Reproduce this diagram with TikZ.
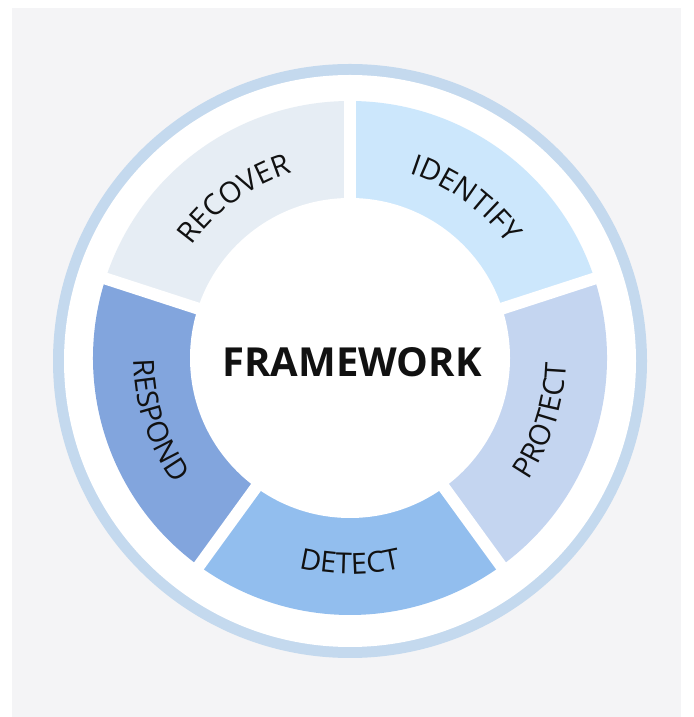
\documentclass[tikz,border=0pt]{standalone}
\usepackage{fontspec}
\setmainfont{Open Sans}
\usetikzlibrary{decorations.text}
\definecolor{bgc}{HTML}{F4F4F6}
\definecolor{ringc}{HTML}{C4D9EE}
\definecolor{identc}{HTML}{CCE7FC}
\definecolor{recovc}{HTML}{E6EDF4}
\definecolor{respc}{HTML}{82A5DD}
\definecolor{detc}{HTML}{92BEEE}
\definecolor{protc}{HTML}{C4D5F0}
\definecolor{txtc}{HTML}{111111}
\tikzset{
  gapline/.style={white, line width=12pt},
  arclabel/.style={decorate, decoration={text along path, text align=center,
     text color=txtc, text={|\fontsize{29}{32}\selectfont|#1}}}
}
\begin{document}
\begin{tikzpicture}[x=1pt,y=1pt]
\useasboundingbox (0,0) rectangle (693,717);
\fill[white] (0,0) rectangle (693,717);
\fill[bgc] (12,0) rectangle (681,709);
% outer ring
\coordinate (rc) at (350,356);
\fill[ringc] (rc) circle[radius=297];
\fill[white] (rc) circle[radius=286];
% segments
\begin{scope}[shift={(350,359)}]
\coordinate (c) at (0,0);
\fill[identc] (c) -- (18:257) arc[start angle=18, end angle=90, radius=257] -- cycle;
\fill[recovc] (c) -- (90:257) arc[start angle=90, end angle=162, radius=257] -- cycle;
\fill[respc] (c) -- (162:257) arc[start angle=162, end angle=234, radius=257] -- cycle;
\fill[detc] (c) -- (234:257) arc[start angle=234, end angle=306, radius=257] -- cycle;
\fill[protc] (c) -- (306:257) arc[start angle=306, end angle=378, radius=257] -- cycle;
\foreach \a in {18,90,162,234,306} {
  \draw[gapline] (c) -- (\a:270);
}
\fill[white] (c) circle[radius=160];
% labels
\path[arclabel=IDENTIFY] (84:194) arc[start angle=84, end angle=24, radius=194];
\path[arclabel=RECOVER] (156:194) arc[start angle=156, end angle=96, radius=194];
\path[arclabel=RESPOND] (168:216) arc[start angle=168, end angle=228, radius=216];
\path[arclabel=DETECT] (240:216) arc[start angle=240, end angle=300, radius=216];
\path[arclabel=PROTECT] (312:216) arc[start angle=312, end angle=372, radius=216];
\node[text=txtc, font=\bfseries\fontsize{40}{45}\selectfont] (fw) at (2,-4) {FRAMEWORK};
\end{scope}
\end{tikzpicture}
\end{document}
